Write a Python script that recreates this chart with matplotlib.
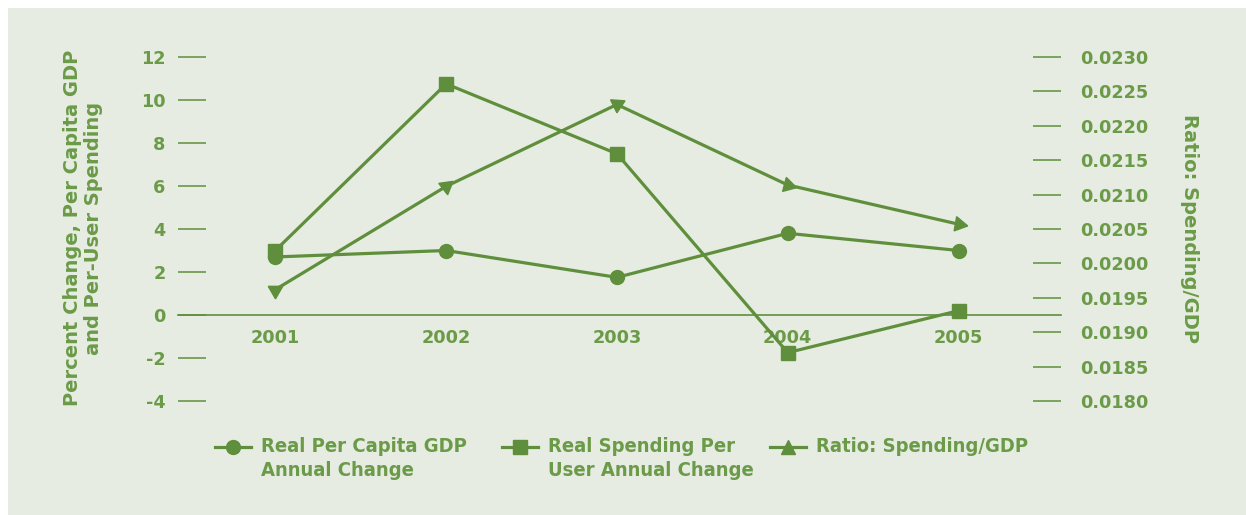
import matplotlib
matplotlib.use("Agg")
import matplotlib.pyplot as plt
from matplotlib.lines import Line2D
from matplotlib.patches import Rectangle
from matplotlib import font_manager
from matplotlib.font_manager import FontProperties

years = ["2001", "2002", "2003", "2004", "2005"]
gdp_change = [2.7, 3.0, 1.75, 3.8, 3.0]
spending_change = [3.0, 10.75, 7.5, -1.75, 0.2]
ratio = [0.01962, 0.02112, 0.02231, 0.02114, 0.02057]
left_ticks = [12, 10, 8, 6, 4, 2, 0, -2, -4]
right_ticks = [0.0230, 0.0225, 0.0220, 0.0215, 0.0210, 0.0205, 0.0200, 0.0195, 0.0190, 0.0185, 0.0180]
legend_labels = ["Real Per Capita GDP\nAnnual Change", "Real Spending Per\nUser Annual Change", "Ratio: Spending/GDP"]
left_label = "Percent Change, Per Capita GDP\nand Per-User Spending"
right_label = "Ratio: Spending/GDP"

LINE = "#5f8f3c"
TEXT = "#6b9b48"
BG = "#e6ece1"

main_font = "DejaVu Sans"

# condensed bold font for the legend if available
cond_path = None
for f in font_manager.fontManager.ttflist:
    nm = (f.name + " " + f.fname).lower()
    if ("condensed" in nm or "narrow" in nm) and ("bold" in f.fname.lower()) and "oblique" not in f.fname.lower() and "italic" not in f.fname.lower():
        cond_path = f.fname
        break
if cond_path:
    legend_fp = FontProperties(fname=cond_path, size=14.5)
else:
    legend_fp = FontProperties(family="Liberation Sans", weight="bold", size=14.5)

W, H = 1246, 515
fig = plt.figure(figsize=(W / 100, H / 100), dpi=100, facecolor="white")
fig.patches.append(Rectangle((8 / W, 0), 1 - 8 / W, 1 - 8 / H, transform=fig.transFigure,
                             facecolor=BG, edgecolor="none", zorder=-10))

ax = fig.add_axes([178 / W, 1 - 401 / H, (1061 - 178) / W, (401 - 57) / H])
ax.set_facecolor("none")
ax2 = ax.twinx()
ax2.set_facecolor("none")

x = list(range(len(years)))
ax.plot(x, gdp_change, color=LINE, lw=2.3, marker="o", ms=10, zorder=5)
ax.plot(x, spending_change, color=LINE, lw=2.3, marker="s", ms=9.5, zorder=5)
ax2.plot(x, ratio, color=LINE, lw=2.3, zorder=5)
angles = [180, 188, 176, 135, -100]
for xi, yi, a in zip(x, ratio, angles):
    ax2.plot([xi], [yi], linestyle="none", marker=(3, 0, a), ms=12, color=LINE, zorder=6)

ax.set_xlim(-0.57, 4.6)
ax.set_ylim(-4, 12)
ax2.set_ylim(0.0180, 0.0230)

for a in (ax, ax2):
    for s in ["top", "left", "right", "bottom"]:
        a.spines[s].set_visible(False)
ax.spines["bottom"].set_visible(True)
ax.spines["bottom"].set_position(("data", 0))
ax.spines["bottom"].set_color(LINE)
ax.spines["bottom"].set_linewidth(1.2)

ax.set_xticks(x)
ax.set_xticklabels(years)
ax.tick_params(axis="x", length=0, pad=10, labelsize=12.7, labelcolor=TEXT)
ax.set_yticks(left_ticks)
ax.set_yticklabels([str(t) for t in left_ticks])
ax.tick_params(axis="y", direction="in", length=20, width=1.1, color=LINE, pad=9,
               labelsize=12.7, labelcolor=TEXT)
ax2.set_yticks(right_ticks)
ax2.set_yticklabels([f"{t:.4f}" for t in right_ticks])
ax2.tick_params(axis="y", direction="in", length=20, width=1.1, color=LINE, pad=14,
                labelsize=12.7, labelcolor=TEXT)
for lab in ax.get_xticklabels() + ax.get_yticklabels() + ax2.get_yticklabels():
    lab.set_fontfamily(main_font)
    lab.set_fontweight("bold")

fig.text(83 / W, 1 - 228 / H, left_label, rotation=90, ha="center", va="center",
         fontsize=14, fontweight="bold", color=TEXT, family=main_font, linespacing=1.15,
         multialignment="center")
fig.text(1190 / W, 1 - 228 / H, right_label, rotation=-90, ha="center", va="center",
         fontsize=14, fontweight="bold", color=TEXT, family=main_font)

# legend
markers = ["o", "s", "^"]
starts = [215, 502, 770]
for lab, mk, sx in zip(legend_labels, markers, starts):
    yy = 1 - 447 / H
    fig.add_artist(Line2D([sx / W, (sx + 36) / W], [yy, yy], transform=fig.transFigure,
                          color=LINE, lw=2.3))
    fig.add_artist(Line2D([(sx + 18) / W], [yy], transform=fig.transFigure, color=LINE,
                          marker=mk, ms=10 if mk != "s" else 9.5, linestyle="none"))
    fig.text((sx + 46) / W, 1 - 437 / H, lab, ha="left", va="top", fontproperties=legend_fp,
             color=TEXT, linespacing=1.32)

fig.savefig("out.png", dpi=100, facecolor="white")
